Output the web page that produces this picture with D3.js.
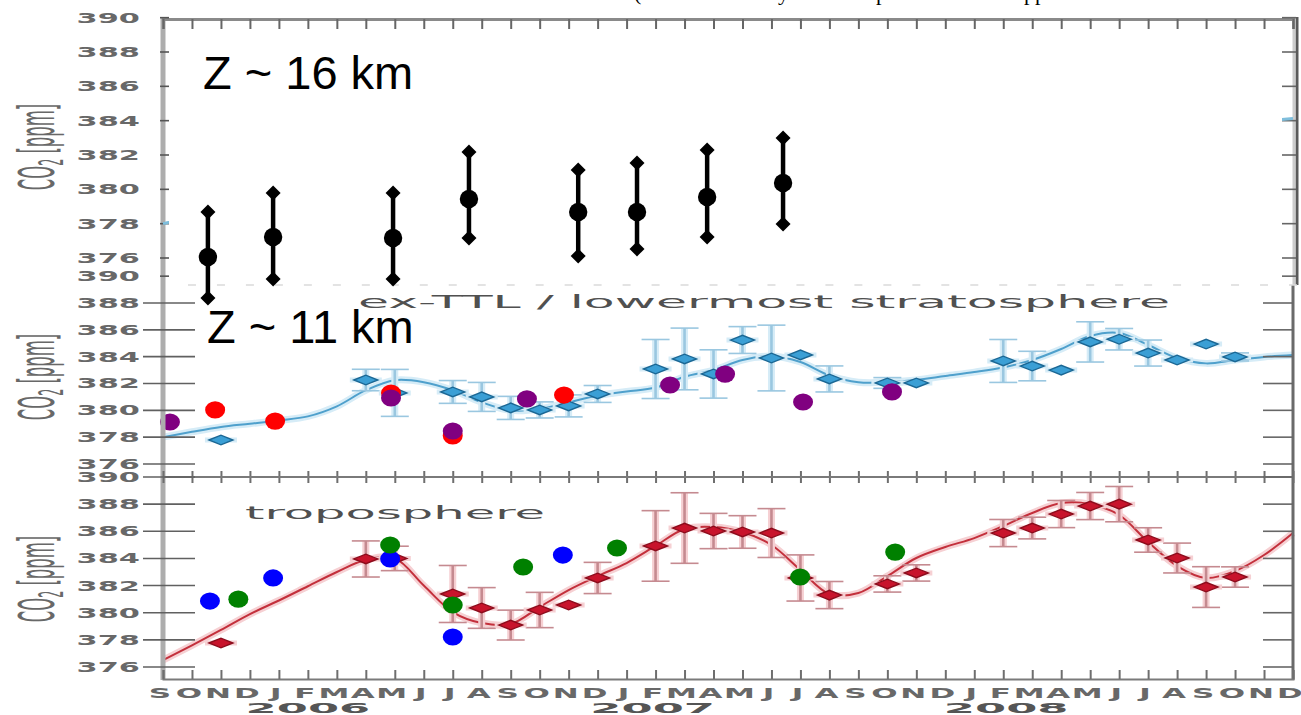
<!DOCTYPE html>
<html>
<head>
<meta charset="utf-8">
<script src="https://cdn.jsdelivr.net/npm/d3@7"></script>
<style>
  html, body { margin: 0; padding: 0; background: #fff; }
  svg { display: block; }
</style>
</head>
<body>
<svg id="chart" width="1301" height="715"></svg>
<script>
// ---- shared time axis: one letter per month, Sep 2005 .. Dec 2008 (index 0..39)
const monthLetters = "SONDJFMAMJJASONDJFMAMJJASONDJFMAMJJASOND".split("");
const yearLabels = ["2006", "2007", "2008"];
const yearPos = [5.0, 16.9, 29.1];
const tickValuesTop = [376, 378, 380, 382, 384, 386, 388, 390];
const tickValuesMid = [376, 378, 380, 382, 384, 386, 388, 390];
const tickValuesBot = [376, 378, 380, 382, 384, 386, 388, 390];

// ---- Z ~ 16 km: mean and range
const z16Month = [1.55, 3.80, 7.94, 10.56, 14.33, 16.36, 18.78, 21.40];
const z16Mean  = [376.06, 377.23, 377.17, 379.44, 378.68, 378.68, 379.56, 380.37];
const z16High  = [378.68, 379.79, 379.79, 382.18, 381.13, 381.54, 382.29, 382.99];
const z16Low   = [373.67, 374.78, 374.78, 377.17, 376.12, 376.53, 377.23, 377.98];

// ---- ex-TTL / lowermost stratosphere: monthly means with error
const stratMonth = [2, 7, 8, 10, 11, 12, 13, 14, 15, 17, 18, 19, 20, 21, 22, 23, 25, 26, 29, 30, 31, 32, 33, 34, 35, 36, 37];
const stratMean  = [377.79, 382.26, 381.3, 381.37, 381.0, 380.18, 380.03, 380.33, 381.22, 383.08, 383.83, 382.71, 385.24, 383.9, 384.13, 382.34, 382.04, 382.04, 383.68, 383.3, 383.0, 385.1, 385.3, 384.27, 383.75, 384.94, 383.98];
const stratErr   = [0, 0.8, 1.75, 0.85, 1.08, 0.86, 0.6, 0.82, 0.63, 2.2, 2.3, 1.8, 1.0, 2.45, 0, 0.97, 0.4, 0, 1.6, 1.1, 0, 1.5, 0.8, 0.97, 0, 0, 0.3];
// smooth fit, one value per month index 0..39
const stratFit = [378.0, 378.4, 378.76, 379.0, 379.25, 379.55, 380.3, 381.5, 382.25, 382.1,
                  381.5, 380.6, 380.0, 380.1, 380.6, 381.1, 381.4, 381.7, 382.5, 383.0,
                  383.75, 384.05, 383.6, 382.6, 382.1, 382.1, 382.26, 382.56, 382.85, 383.2,
                  383.75, 384.57, 385.54, 385.76, 384.87, 383.9, 383.5, 383.75, 383.98, 384.12];
const stratRedMonth    = [1.8, 3.87, 7.87, 10.0, 13.84];
const stratRedValue    = [380.03, 379.2, 381.29, 378.1, 381.14];
const stratPurpleMonth = [0.24, 7.87, 10.0, 12.56, 17.5, 19.4, 22.09, 25.16];
const stratPurpleValue = [379.13, 380.92, 378.46, 380.85, 381.89, 382.7, 380.62, 381.37];

// ---- troposphere: monthly means with error
const tropMonth = [2, 7, 8, 10, 11, 12, 13, 14, 15, 17, 18, 19, 20, 21, 22, 23, 25, 26, 29, 30, 31, 32, 33, 34, 35, 36, 37];
const tropMean  = [377.77, 383.96, 384.0, 381.38, 380.35, 379.09, 380.2, 380.57, 382.56, 384.92, 386.24, 386.02, 385.95, 385.87, 382.56, 381.3, 382.12, 382.93, 385.87, 386.24, 387.27, 387.86, 388.0, 385.36, 384.03, 381.89, 382.63];
const tropErr   = [0, 1.33, 0.9, 2.1, 1.5, 1.1, 1.3, 0, 1.15, 2.6, 2.6, 1.3, 1.2, 1.8, 1.7, 1.0, 0.6, 0.6, 1.0, 0.8, 1.0, 1.0, 1.3, 0.9, 1.1, 1.5, 0.75];
const tropFit = [376.51, 377.6, 378.73, 379.9, 380.9, 381.95, 383.0, 383.9, 384.0, 382.0,
                 380.05, 379.24, 379.17, 380.42, 381.67, 382.7, 383.66, 384.92, 386.17, 386.32,
                 385.95, 384.99, 383.15, 381.38, 381.45, 382.7, 384.03, 384.84, 385.5, 386.39,
                 387.35, 388.08, 388.0, 387.2, 385.21, 383.44, 382.56, 383.07, 384.25, 385.87];
const tropBlueMonth  = [1.62, 3.8, 7.84, 10.0, 13.8];
const tropBlueValue  = [380.86, 382.56, 383.96, 378.21, 384.25];
const tropGreenMonth = [2.6, 7.84, 10.0, 12.43, 15.67, 21.99, 25.27];
const tropGreenValue = [381.0, 384.99, 380.57, 383.37, 384.77, 382.63, 384.47];

// ---- scales
const svg = d3.select("#chart");
const x = d3.scaleLinear().domain([0, 39]).range([163, 1293]);
const yTop = d3.scaleLinear().domain([376, 388]).range([258, 52]);
const yMid = d3.scaleLinear().domain([376, 388]).range([464, 303]);
const yBot = d3.scaleLinear().domain([376, 390]).range([667, 477]);
const months = d3.range(monthLetters.length);

const LABEL_GREY = "#686868";

// ---- one data panel: fit curve, error bars, diamonds
function drawSeries(y, monthsIdx, means, errs, fit, st) {
  const g = svg.append("g");
  const line = d3.line().x((d, i) => x(i)).y(d => y(d)).curve(d3.curveCatmullRom.alpha(0.5));
  g.append("path").datum(fit).attr("d", line).attr("fill", "none")
    .attr("stroke", st.halo).attr("stroke-width", 7).attr("stroke-linejoin", "round");
  g.append("path").datum(fit).attr("d", line).attr("fill", "none")
    .attr("stroke", st.line).attr("stroke-width", 2);

  const pts = monthsIdx.map((m, i) => ({ m, v: means[i], e: errs[i] }));
  const eb = pts.filter(p => p.e > 0);
  g.selectAll(null).data(eb).join("line")
    .attr("x1", d => x(d.m)).attr("x2", d => x(d.m))
    .attr("y1", d => y(d.v + d.e)).attr("y2", d => y(d.v - d.e))
    .attr("stroke", st.halo).attr("stroke-width", 7);
  g.selectAll(null).data(eb).join("line")
    .attr("x1", d => x(d.m)).attr("x2", d => x(d.m))
    .attr("y1", d => y(d.v + d.e)).attr("y2", d => y(d.v - d.e))
    .attr("stroke", st.bar).attr("stroke-width", 2.6);
  const caps = eb.flatMap(d => [d.v + d.e, d.v - d.e].map(v => ({ m: d.m, v })));
  g.selectAll(null).data(caps).join("line")
    .attr("x1", d => x(d.m) - 14).attr("x2", d => x(d.m) + 14)
    .attr("y1", d => y(d.v)).attr("y2", d => y(d.v))
    .attr("stroke", st.bar).attr("stroke-width", 1.6);

  // diamonds with a short horizontal stroke through them
  g.selectAll(null).data(pts).join("line")
    .attr("x1", d => x(d.m) - 16).attr("x2", d => x(d.m) + 16)
    .attr("y1", d => y(d.v)).attr("y2", d => y(d.v))
    .attr("stroke", st.halo).attr("stroke-width", 5);
  g.selectAll(null).data(pts).join("path")
    .attr("transform", d => `translate(${x(d.m)},${y(d.v)})`)
    .attr("d", "M-12,0L0,-4.8L12,0L0,4.8Z")
    .attr("fill", st.fill).attr("stroke", st.stroke).attr("stroke-width", 1.4);
  return g;
}

function drawDots(y, ms, vs, color) {
  svg.append("g").selectAll("ellipse").data(ms.map((m, i) => ({ m, v: vs[i] }))).join("ellipse")
    .attr("cx", d => x(d.m)).attr("cy", d => y(d.v))
    .attr("rx", 10).attr("ry", 8.6).attr("fill", color);
}

// ---- middle panel: ex-TTL / lowermost stratosphere
drawSeries(yMid, stratMonth, stratMean, stratErr, stratFit, {
  halo: "#d6ecf7", line: "#4fa0cc", bar: "#9ac7e0", fill: "#3b9fd5", stroke: "#1b6794"
});
svg.append("text").attr("x", 358).attr("y", 308)
  .attr("textLength", 812).attr("lengthAdjust", "spacingAndGlyphs")
  .style("font", "17px 'DejaVu Sans'").attr("fill", "#505050")
  .text("ex-TTL / lowermost stratosphere");
drawDots(yMid, stratRedMonth, stratRedValue, "#ff0000");
drawDots(yMid, stratPurpleMonth, stratPurpleValue, "#800080");

// ---- bottom panel: troposphere
drawSeries(yBot, tropMonth, tropMean, tropErr, tropFit, {
  halo: "#f6d0d3", line: "#c3303c", bar: "#c58a90", fill: "#c8142c", stroke: "#8c0c1c"
});
svg.append("text").attr("x", 245).attr("y", 519)
  .attr("textLength", 300).attr("lengthAdjust", "spacingAndGlyphs")
  .style("font", "17px 'DejaVu Sans'").attr("fill", "#505050")
  .text("troposphere");
drawDots(yBot, tropBlueMonth, tropBlueValue, "#0000ff");
drawDots(yBot, tropGreenMonth, tropGreenValue, "#008000");

// ---- axes frame
const axes = svg.append("g");
// left axis (shared, light grey band)
axes.append("line").attr("x1", 163).attr("x2", 163).attr("y1", 17).attr("y2", 680)
  .attr("stroke", "#adadad").attr("stroke-width", 5);
// right axes
axes.append("line").attr("x1", 1297).attr("x2", 1297).attr("y1", 17).attr("y2", 285)
  .attr("stroke", "#5a5a5a").attr("stroke-width", 3);
axes.append("line").attr("x1", 1294).attr("x2", 1294).attr("y1", 17).attr("y2", 285)
  .attr("stroke", "#cccccc").attr("stroke-width", 3);
axes.append("line").attr("x1", 1293).attr("x2", 1293).attr("y1", 285).attr("y2", 680)
  .attr("stroke", "#6a6a6a").attr("stroke-width", 3);

// top of the upper panel: month ticks pointing down
const topAxis = d3.axisBottom(x).tickValues(months).tickSize(10).tickFormat("");
axes.append("g").attr("transform", "translate(0,19)").call(topAxis)
  .call(g => g.select(".domain").attr("stroke", "#8a8a8a").attr("stroke-width", 3))
  .call(g => g.selectAll(".tick line").attr("stroke", "#666").attr("stroke-width", 2));

// short faint dashes along the top edge of the middle panel
axes.append("g").selectAll("line").data(months.slice(1)).join("line")
  .attr("x1", d => x(d) - 4).attr("x2", d => x(d) + 4).attr("y1", 285).attr("y2", 285)
  .attr("stroke", "#dadada").attr("stroke-width", 1.5);

// shared edge between middle and bottom panels
const midAxis = d3.axisBottom(x).tickValues(months).tickSizeInner(12).tickSizeOuter(0).tickFormat("");
axes.append("g").attr("transform", "translate(0,471)").call(midAxis)
  .call(g => g.select(".domain").remove())
  .call(g => g.selectAll(".tick line").attr("stroke", "#6e6e6e").attr("stroke-width", 2));
axes.append("line").attr("x1", 163).attr("x2", 1293).attr("y1", 477).attr("y2", 477)
  .attr("stroke", "#7a7a7a").attr("stroke-width", 2);

// bottom axis, ticks pointing up
const botAxis = d3.axisTop(x).tickValues(months).tickSize(9).tickFormat("");
axes.append("g").attr("transform", "translate(0,679)").call(botAxis)
  .call(g => g.select(".domain").attr("stroke", "#7a7a7a").attr("stroke-width", 2))
  .call(g => g.selectAll(".tick line").attr("stroke", "#6e6e6e").attr("stroke-width", 2));

// y ticks
function yTicks(vals, y, x1, x2, color) {
  axes.append("g").selectAll("line").data(vals).join("line")
    .attr("x1", x1).attr("x2", x2).attr("y1", d => y(d)).attr("y2", d => y(d))
    .attr("stroke", color).attr("stroke-width", 1.6);
}
yTicks(tickValuesTop, yTop, 160, 169, "#555");
yTicks([390], yMid, 160, 169, "#555");
yTicks(tickValuesMid.filter(v => v < 390), yMid, 143, 195, "#606060");
yTicks(tickValuesBot, yBot, 143, 195, "#606060");
yTicks(tickValuesTop, yTop, 1282, 1296, "#666");
yTicks([390], yMid, 1282, 1296, "#666");
yTicks(tickValuesMid.filter(v => v < 390), yMid, 1263, 1293, "#666");
yTicks(tickValuesBot, yBot, 1263, 1293, "#666");

// y tick labels (wide, stretched numerals)
function yLabels(vals, y) {
  svg.append("g").selectAll("text").data(vals).join("text")
    .attr("transform", d => `translate(140,${y(d)}) scale(2.25,1)`)
    .attr("text-anchor", "end").attr("dy", "0.37em")
    .style("font", "bold 13.5px 'DejaVu Sans'").attr("fill", LABEL_GREY)
    .text(d => d);
}
yLabels(tickValuesTop, yTop);
yLabels(tickValuesMid, yMid);
yLabels(tickValuesBot, yBot);

// CO2 [ppm] axis titles
function yTitle(cy) {
  const t = svg.append("text")
    .attr("transform", `translate(54,${cy}) scale(3,1) rotate(-90)`)
    .attr("text-anchor", "middle")
    .style("font", "16.5px 'DejaVu Sans'").attr("fill", LABEL_GREY);
  t.append("tspan").text("CO");
  t.append("tspan").attr("font-size", "11px").attr("dy", "3").text("2");
  t.append("tspan").attr("dy", "-3").text(" [ppm]");
}
yTitle(147);
yTitle(377);
yTitle(579);

// month letters and years
svg.append("g").selectAll("text").data(months).join("text")
  .attr("transform", d => `translate(${x(d) - 3},697.5) scale(2.3,1)`)
  .attr("text-anchor", "middle")
  .style("font", "bold 13.5px 'DejaVu Sans'").attr("fill", LABEL_GREY)
  .text(d => monthLetters[d]);
svg.append("g").selectAll("text").data(yearLabels).join("text")
  .attr("transform", (d, i) => `translate(${x(yearPos[i])},712.5) scale(3.2,1)`)
  .attr("text-anchor", "middle")
  .style("font", "bold 14px 'DejaVu Sans'").attr("fill", "#555")
  .text(d => d);

// ---- upper panel: edge glimpses of the fit, then black symbols
svg.append("clipPath").attr("id", "edges").call(c => {
  c.append("rect").attr("x", 158).attr("y", 0).attr("width", 11).attr("height", 285);
  c.append("rect").attr("x", 1282).attr("y", 0).attr("width", 14).attr("height", 285);
});
svg.append("path").datum(stratFit)
  .attr("d", d3.line().x((d, i) => x(i)).y(d => yTop(d)).curve(d3.curveCatmullRom.alpha(0.5)))
  .attr("clip-path", "url(#edges)").attr("fill", "none")
  .attr("stroke", "#7fbedc").attr("stroke-width", 3);

const z16 = z16Month.map((m, i) => ({ m, v: z16Mean[i], hi: z16High[i], lo: z16Low[i] }));
const gz = svg.append("g");
gz.selectAll(null).data(z16).join("line")
  .attr("x1", d => x(d.m)).attr("x2", d => x(d.m))
  .attr("y1", d => yTop(d.hi)).attr("y2", d => yTop(d.lo))
  .attr("stroke", "#000").attr("stroke-width", 4.5);
gz.selectAll(null).data(z16.flatMap(d => [{ m: d.m, v: d.hi }, { m: d.m, v: d.lo }])).join("path")
  .attr("transform", d => `translate(${x(d.m)},${yTop(d.v)})`)
  .attr("d", "M-7.5,0L0,-7.5L7.5,0L0,7.5Z").attr("fill", "#000");
gz.selectAll(null).data(z16).join("circle")
  .attr("cx", d => x(d.m)).attr("cy", d => yTop(d.v)).attr("r", 9.2).attr("fill", "#000");

// panel titles
svg.append("text").attr("x", 203).attr("y", 89)
  .style("font", "47px 'Liberation Sans'").attr("fill", "#000").text("Z ~ 16 km");
svg.append("text").attr("x", 207).attr("y", 343)
  .style("font", "47px 'Liberation Sans'").attr("fill", "#000").text("Z ~ 11 km");

// caption line running off the top edge
const cap = svg.append("text").attr("y", 0).style("font", "22px 'Liberation Serif'").attr("fill", "#000");
cap.append("tspan").attr("x", 634).text("(Black dots");
cap.append("tspan").attr("x", 750).text("only");
cap.append("tspan").attr("x", 876).text("plotted in the");
cap.append("tspan").attr("x", 1013).text("upper half");
</script>
</body>
</html>
